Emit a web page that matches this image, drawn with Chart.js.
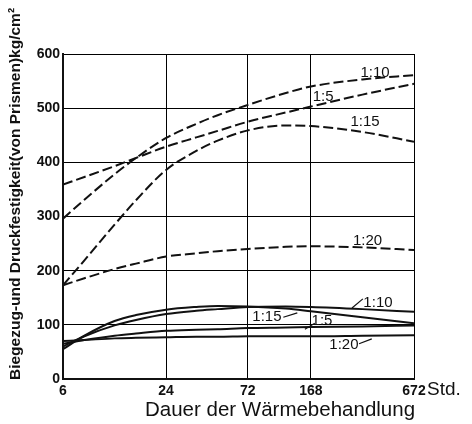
<!DOCTYPE html>
<html>
<head>
<meta charset="utf-8">
<script src="https://cdn.jsdelivr.net/npm/chart.js@4"></script>
<style>
  html, body { margin: 0; padding: 0; background: #fff; }
</style>
</head>
<body>
<canvas id="c" width="472" height="424"></canvas>
<script>
// Heat-treatment duration in hours (log axis)
const hours = [6, 8, 12, 16, 24, 36, 48, 72, 120, 168, 336, 672];
const xTicks = [6, 24, 72, 168, 672];
const yTicks = [0, 100, 200, 300, 400, 500, 600];

// Compressive strength (dashed), by mix ratio
const druck_1_10 = [296, 331, 378, 408, 445, 471, 487, 506, 528, 540, 553, 561];
const druck_1_5  = [359, 373, 393, 408, 429, 446, 458, 475, 492, 503, 525, 545];
const druck_1_15 = [173, 219, 285, 330, 386, 421, 440, 459, 468, 467, 456, 438];
const druck_1_20 = [173, 186, 203, 213, 226, 232, 236, 240, 244, 245, 243, 238];

// Flexural tensile strength (solid), by mix ratio
const biege_1_10 = [60, 79, 99, 109, 120, 126, 129, 133, 134, 133, 129, 124];
const biege_1_15 = [55, 80, 107, 118, 128, 133, 135, 134, 130, 125, 114, 103];
const biege_1_5  = [65, 72, 80, 84, 89, 91, 92, 94, 95, 96, 97, 99];
const biege_1_20 = [70, 72, 75, 76, 77, 78, 78, 79, 79, 79, 80, 81];

// Curve labels: text, anchor (hours, value)
const curveLabels = [
  { text: '1:10', h: 398, v: 566 },
  { text: '1:5',  h: 198, v: 520 },
  { text: '1:15', h: 348, v: 474 },
  { text: '1:20', h: 360, v: 255 },
  { text: '1:10', h: 414, v: 140 },
  { text: '1:15', h: 93,  v: 114 },
  { text: '1:5',  h: 195, v: 107 },
  { text: '1:20', h: 262, v: 63 }
];
// Leader strokes from a label to its curve: [h1, v1, h2, v2]
const leaders = [
  [292, 131, 338, 148],
  [116, 114, 140, 122],
  [155, 92, 177, 103],
  [321, 65, 381, 74]
];

const INK = '#111';
const boldFont = { family: "'Liberation Sans', Arial, sans-serif", size: 14, weight: 'bold' };

function series(vals, dashed) {
  return {
    data: hours.map((h, i) => ({ x: h, y: vals[i] })),
    borderColor: INK,
    borderWidth: 2,
    borderDash: dashed ? [10, 4] : [],
    pointRadius: 0,
    fill: false,
    cubicInterpolationMode: 'monotone'
  };
}

const annotate = {
  id: 'annotate',
  afterDraw(chart) {
    const { ctx, scales: { x, y } } = chart;
    ctx.save();
    ctx.fillStyle = INK;
    ctx.strokeStyle = INK;

    // curve labels
    ctx.font = "15px 'Liberation Sans', Arial, sans-serif";
    ctx.textAlign = 'center';
    ctx.textBaseline = 'middle';
    curveLabels.forEach(l => {
      ctx.fillText(l.text, x.getPixelForValue(l.h), y.getPixelForValue(l.v));
    });

    // leader strokes
    ctx.lineWidth = 1.2;
    leaders.forEach(([h1, v1, h2, v2]) => {
      ctx.beginPath();
      ctx.moveTo(x.getPixelForValue(h1), y.getPixelForValue(v1));
      ctx.lineTo(x.getPixelForValue(h2), y.getPixelForValue(v2));
      ctx.stroke();
    });

    // unit after the last x tick
    ctx.font = "19px 'Liberation Sans', Arial, sans-serif";
    ctx.textAlign = 'left';
    ctx.fillText('Std.', x.right + 13, 390);

    // x-axis title
    ctx.font = "20.5px 'Liberation Sans', Arial, sans-serif";
    ctx.textAlign = 'center';
    ctx.fillText('Dauer der Wärmebehandlung', 280, 410);

    // y-axis title, rotated
    ctx.translate(16, 380);
    ctx.rotate(-Math.PI / 2);
    ctx.font = "bold 15.5px 'Liberation Sans', Arial, sans-serif";
    ctx.textAlign = 'left';
    ctx.fillText('Biegezug-und Druckfestigkeit(von Prismen)kg/cm²', 0, 0);
    ctx.restore();
  }
};

new Chart(document.getElementById('c'), {
  type: 'line',
  data: {
    datasets: [
      series(druck_1_10, true),
      series(druck_1_5, true),
      series(druck_1_15, true),
      series(druck_1_20, true),
      series(biege_1_10, false),
      series(biege_1_15, false),
      series(biege_1_5, false),
      series(biege_1_20, false)
    ]
  },
  options: {
    responsive: false,
    animation: false,
    layout: { padding: { top: 54, right: 58, left: 0, bottom: 0 } },
    plugins: { legend: { display: false }, tooltip: { enabled: false } },
    scales: {
      x: {
        type: 'logarithmic',
        min: 6,
        max: 672,
        afterBuildTicks: s => { s.ticks = xTicks.map(v => ({ value: v })); },
        afterFit: s => { s.height = 45; },
        ticks: {
          autoSkip: false,
          maxRotation: 0,
          padding: 4,
          color: INK,
          font: boldFont,
          callback: v => String(v)
        },
        grid: { color: '#000', lineWidth: 1, drawTicks: false },
        border: { color: INK, width: 2 }
      },
      y: {
        min: 0,
        max: 600,
        afterBuildTicks: s => { s.ticks = yTicks.map(v => ({ value: v })); },
        afterFit: s => { s.width = 63; },
        ticks: {
          padding: 3,
          color: INK,
          font: boldFont
        },
        grid: { color: '#000', lineWidth: 1, drawTicks: false },
        border: { color: INK, width: 2 }
      }
    }
  },
  plugins: [annotate]
});
</script>
</body>
</html>
